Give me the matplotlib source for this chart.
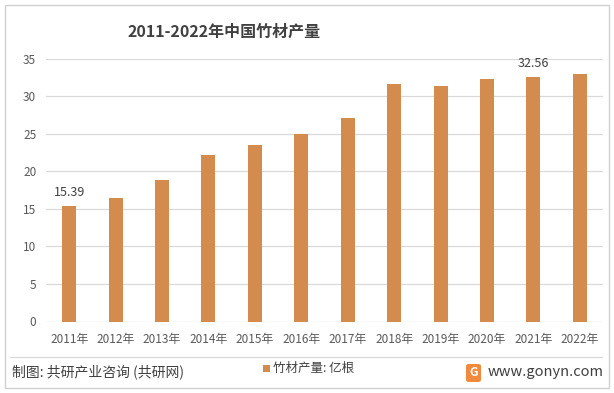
import numpy as np
import matplotlib
matplotlib.use('Agg')
import matplotlib.pyplot as plt
from matplotlib.patches import Rectangle, FancyBboxPatch

plt.rcParams['font.family'] = ['Noto Sans CJK SC', 'DejaVu Sans']

# ─── Data
#
years = ['2011年', '2012年', '2013年', '2014年', '2015年', '2016年',
         '2017年', '2018年', '2019年', '2020年', '2021年', '2022年']
output = [15.39, 16.5, 18.8, 22.2, 23.5, 25.0, 27.1, 31.6, 31.4, 32.3, 32.56, 32.9]
labelled = {0: '15.39', 10: '32.56'}

BAR_COLOR = '#D38B4E'
TEXT_COLOR = '#595959'

W, H = 614, 393
fig = plt.figure(figsize=(W / 100, H / 100), dpi=100)

# outer frame
fig.patches.append(Rectangle((5 / W, 5 / H), 604 / W, 383 / H, transform=fig.transFigure,
                             fill=False, edgecolor='#D0D0D0', linewidth=1.0))

ax = fig.add_axes([46 / W, 71.5 / H, 557 / W, 263 / H])
x = np.arange(len(years))
ax.bar(x, output, width=0.3, color=BAR_COLOR, zorder=3)

for i, txt in labelled.items():
    ax.annotate(txt, (x[i], output[i]), xytext=(0, 5), textcoords='offset points',
                ha='center', va='bottom', fontsize=9, color='#404040')

ax.set_xlim(-0.5, len(years) - 0.5)
ax.set_ylim(0, 35)
ax.set_yticks(range(0, 36, 5))
ax.set_xticks(x)
ax.set_xticklabels(years)
ax.grid(axis='y', color='#D9D9D9', linewidth=0.9, zorder=0)
ax.tick_params(axis='both', length=0, labelsize=8.5, colors=TEXT_COLOR)
ax.tick_params(axis='y', pad=7)
ax.tick_params(axis='x', pad=8)
for s in ax.spines.values():
    s.set_visible(False)

# title
fig.text(224 / W, 1 - 32 / H, '2011-2022年中国竹材产量', ha='center', va='center',
         fontsize=11.5, fontweight='bold', color='#404040')

# footer separator
fig.add_artist(plt.Line2D([10 / W, 602 / W], [1 - 357 / H, 1 - 357 / H],
                          color='#D9D9D9', linewidth=0.9))

fig.text(12 / W, 1 - 372 / H, '制图: 共研产业咨询 (共研网)', ha='left', va='center',
         fontsize=10, color='#404040')

# legend
fig.patches.append(Rectangle((263 / W, 1 - 372 / H), 7 / W, 7 / H, transform=fig.transFigure,
                             facecolor=BAR_COLOR, edgecolor='none'))
fig.text(273 / W, 1 - 368 / H, '竹材产量: 亿根', ha='left', va='center',
         fontsize=9, color='#404040')

# logo + site
fig.patches.append(FancyBboxPatch((466 / W, 1 - 382 / H), 15 / W, 18 / H,
                                  boxstyle='round,pad=0,rounding_size=0.005',
                                  transform=fig.transFigure,
                                  facecolor='#F08A3C', edgecolor='none'))
fig.text(473.5 / W, 1 - 373 / H, 'G', ha='center', va='center', fontsize=8.5,
         fontweight='bold', color='white')
fig.text(488 / W, 1 - 372 / H, 'www.gonyn.com', ha='left', va='center',
         fontsize=10.5, color='#404040')

fig.savefig('out.png', dpi=100)
